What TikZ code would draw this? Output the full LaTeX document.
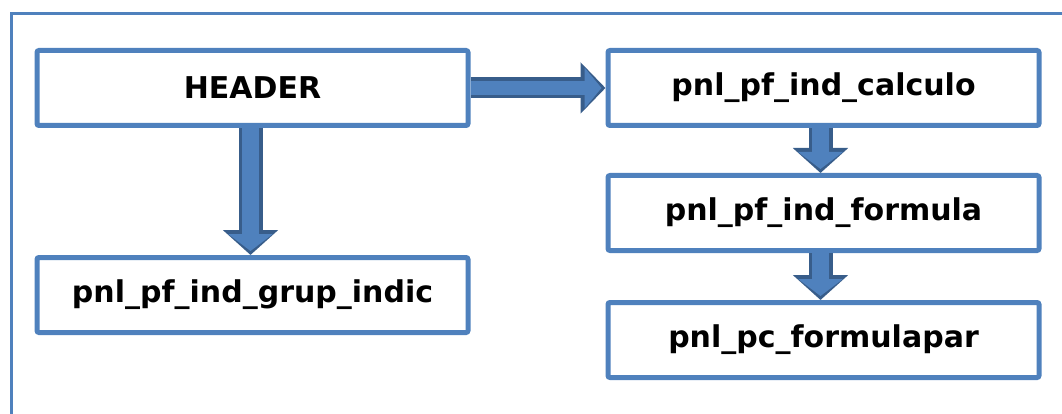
\documentclass[tikz,border=0pt]{standalone}
\usepackage{fontspec}
\setmainfont{DejaVu Sans}
\usepackage{xcolor}
\definecolor{oblue}{RGB}{79,129,189}
\definecolor{dblue}{RGB}{56,93,138}
\usepackage{tikz}
\usetikzlibrary{arrows.meta,positioning}

\begin{document}
\begin{tikzpicture}[
  x=1pt,y=1pt,
  pbox/.style={rectangle,draw=oblue,line width=5pt,rounded corners=2pt,fill=white,minimum width=431pt,minimum height=75pt,inner sep=0pt,font=\fontsize{30}{36}\selectfont\bfseries},
  blk/.style={draw=oblue,line width=17pt,-{Triangle[width=44pt,length=17pt]},shorten >=4pt,
    preaction={draw=dblue,line width=24pt,-{Triangle[width=54pt,length=25pt]},shorten >=0pt}},
  hblk/.style={draw=oblue,line width=14pt,-{Triangle[width=40pt,length=17pt]},shorten >=4pt,
    preaction={draw=dblue,line width=21pt,-{Triangle[width=50pt,length=25pt]},shorten >=0pt}},
  frame/.style={draw=oblue,line width=3pt}
]
  \useasboundingbox (0,0) rectangle (1062,-414);

  % Frame
  \draw[frame] (11.5,-430) |- (1080,-13.5);

  % Boxes
  \node[pbox] (header) at (252.5,-88) {HEADER};
  \node[pbox,below=127pt of header] (grup) {pnl\_pf\_ind\_grup\_indic};
  \node[pbox,right=135pt of header] (calc) {pnl\_pf\_ind\_calculo};
  \node[pbox,below=45pt of calc] (form) {pnl\_pf\_ind\_formula};
  \node[pbox,below=47pt of form] (fpar) {pnl\_pc\_formulapar};

  % Arrows
  \draw[hblk] (header.east) -- (calc.west);
  \draw[blk] ([xshift=-2pt]header.south) -- ([xshift=-2pt]grup.north);
  \draw[blk] ([xshift=-3pt]calc.south) -- ([xshift=-3pt]form.north);
  \draw[blk] ([xshift=-3pt]form.south) -- ([xshift=-3pt]fpar.north);
\end{tikzpicture}
\end{document}
